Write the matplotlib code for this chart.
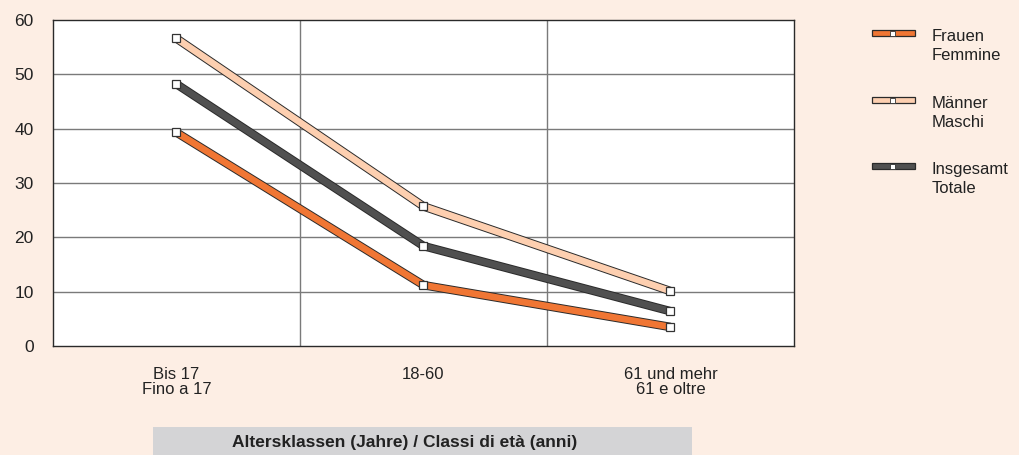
import matplotlib
matplotlib.use("Agg")
import matplotlib.pyplot as plt
import matplotlib.patheffects as pe
from matplotlib.patches import Rectangle

plt.rcParams['font.family'] = ['Liberation Sans', 'DejaVu Sans']

categories = ["Bis 17\nFino a 17", "18-60", "61 und mehr\n61 e oltre"]
frauen = [39.3, 11.2, 3.5]
maenner = [56.6, 25.7, 10.1]
insgesamt = [48.2, 18.4, 6.4]
series_labels = ["Frauen\nFemmine", "Männer\nMaschi", "Insgesamt\nTotale"]
series_colors = ["#f07634", "#fdcfb0", "#505050"]
yticks = [0, 10, 20, 30, 40, 50, 60]
xlabel = "Altersklassen (Jahre) / Classi di età (anni)"

bg = "#fdeee4"
fig = plt.figure(figsize=(10.2, 4.55), dpi=100, facecolor=bg)
W, H = 1020, 455
ax = fig.add_axes([53 / W, 1 - 346 / H, (794 - 53) / W, (346 - 20) / H])
ax.set_facecolor("white")

xs = [0.5, 1.5, 2.5]
# draw order: Frauen, Insgesamt, Männer
for vals, col in [(frauen, series_colors[0]), (insgesamt, series_colors[2]), (maenner, series_colors[1])]:
    ax.plot(xs, vals, color=col, lw=4.8, solid_joinstyle='miter', solid_capstyle='butt', zorder=3,
            path_effects=[pe.Stroke(linewidth=6.2, foreground="#2a2a2a"), pe.Normal()])
    ax.plot(xs, vals, ls='none', marker='s', ms=6, mfc='white', mec='#333333', mew=0.9, zorder=4)

ax.set_xlim(0, 3)
ax.set_ylim(0, 60)
ax.set_yticks(yticks)
ax.set_yticklabels([str(t) for t in yticks], fontsize=12.5, color="#222222")
ax.set_xticks(xs)
ax.set_xticklabels(categories, fontsize=12, color="#222222", linespacing=1.0)
ax.tick_params(length=0)
ax.tick_params(axis='x', pad=15)
ax.tick_params(axis='y', pad=14)
for t in yticks[1:-1]:
    ax.axhline(t, color="#7a7a7a", lw=1.0, zorder=1)
for xv in [1, 2]:
    ax.axvline(xv, color="#7a7a7a", lw=1.0, zorder=1)
for s in ax.spines.values():
    s.set_color("#2a2a2a")
    s.set_linewidth(1.0)

# x-axis title box
fig.patches.append(Rectangle((153 / W, 0), (692 - 153) / W, (455 - 427) / H,
                             transform=fig.transFigure, facecolor="#d4d4d6", edgecolor="none"))
fig.text(405 / W, 1 - 443 / H, xlabel, ha='center', va='center', fontsize=12.5,
         fontweight='bold', color="#222222")

# legend
leg_rows = [33, 100, 166]
for y, lab, col in zip(leg_rows, series_labels, series_colors):
    fig.patches.append(Rectangle((872 / W, 1 - (y + 3) / H), 43 / W, 6 / H, transform=fig.transFigure,
                                 facecolor=col, edgecolor="#2a2a2a", lw=0.9))
    fig.patches.append(Rectangle((890 / W, 1 - (y + 2.5) / H), 5 / W, 5 / H, transform=fig.transFigure,
                                 facecolor="white", edgecolor="#333333", lw=0.6))
    fig.text(932 / W, 1 - (y - 4) / H, lab, ha='left', va='top', fontsize=12,
             color="#222222", linespacing=1.35)

fig.savefig("out.png", dpi=100, facecolor=bg)
